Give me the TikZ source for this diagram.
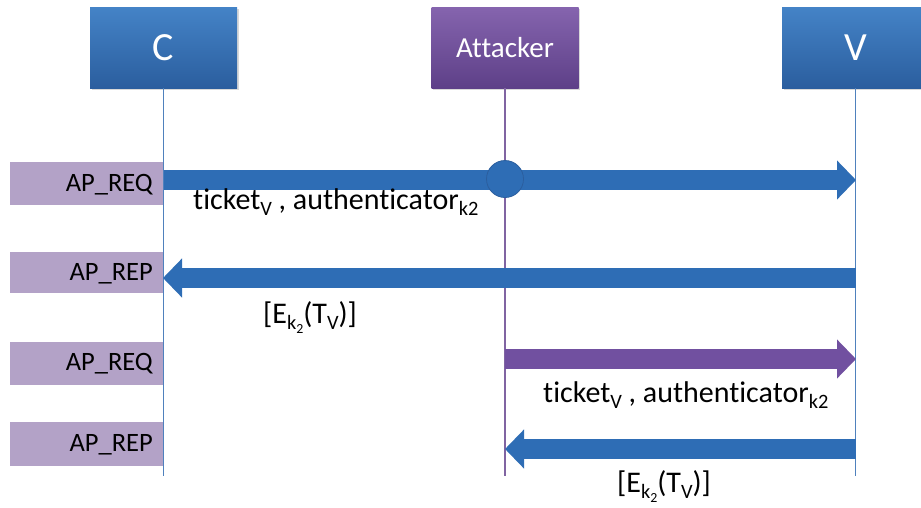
\documentclass[tikz,border=0pt]{standalone}
\usepackage{fontspec}
\setmainfont{Carlito}[Ligatures={NoCommon,NoContextual}]
\usetikzlibrary{arrows.meta,shadows}
\definecolor{blueTop}{HTML}{4483C7}
\definecolor{blueBot}{HTML}{2B5E9E}
\definecolor{purTop}{HTML}{8564AE}
\definecolor{purBot}{HTML}{5E4088}
\definecolor{arrBlue}{HTML}{2E6DB5}
\definecolor{arrPur}{HTML}{7150A0}
\definecolor{lineBlue}{HTML}{4F81BD}
\definecolor{linePur}{HTML}{8064A2}
\definecolor{tagFill}{HTML}{B3A2C7}
\newcommand{\lowsub}[1]{\raisebox{-0.2em}{\scalebox{0.68}{#1}}}
\tikzset{
  actor/.style={rectangle, minimum width=147pt, minimum height=81pt, inner sep=0pt,
    text=white, shading=axis, shading angle=0,
    drop shadow={shadow xshift=1.5pt, shadow yshift=-2pt, opacity=0.3}},
  bluebox/.style={actor, top color=blueTop, bottom color=blueBot},
  purbox/.style={actor, top color=purTop, bottom color=purBot},
  life/.style={line width=1.3pt},
  tag/.style={fill=tagFill, draw=none},
  tagtext/.style={anchor=east, font=\fontsize{26.5}{30}\selectfont, inner sep=0pt},
  msg/.style={line width=20pt, -{Triangle[length=19pt,width=38pt]}},
  lbl/.style={anchor=base west, font=\fontsize{30}{34}\selectfont, inner sep=0pt}
}
\begin{document}
\begin{tikzpicture}[x=1pt,y=-1pt]
\useasboundingbox (0,0) rectangle (921,507);
\clip (0,0) rectangle (921,507);

% left tags
\fill[tag] (10,162) rectangle (163,205);
\fill[tag] (10,252) rectangle (163,293);
\fill[tag] (10,342) rectangle (163,385);
\fill[tag] (10,422) rectangle (163,466);
\node[tagtext] (t1) at (153,185) {AP\_REQ};
\node[tagtext] (t2) at (153,274) {AP\_REP};
\node[tagtext] (t3) at (153,364) {AP\_REQ};
\node[tagtext] (t4) at (153,445) {AP\_REP};

% actors
\node[bluebox, font=\fontsize{40}{48}\selectfont] (C) at (163.5,47.5) {C};
\node[purbox, font=\fontsize{29}{34}\selectfont] (A) at (505,47.5) {Attacker};
\node[bluebox, font=\fontsize{40}{48}\selectfont] (V) at (855.5,47.5) {V};

% lifelines
\coordinate (Cend) at (163.5,476);
\coordinate (Aend) at (505,476);
\coordinate (Vend) at (855.5,476);
\draw[life, lineBlue] (C.south) -- (Cend);
\draw[life, linePur] (A.south) -- (Aend);
\draw[life, lineBlue] (V.south) -- (Vend);

\coordinate (C1) at (163.5,180);
\coordinate (V1) at (856,180);
\coordinate (C2) at (163,278);
\coordinate (V2) at (855.5,278);
\coordinate (A3) at (505,359);
\coordinate (V3) at (856,359);
\coordinate (A4) at (505,449);
\coordinate (V4) at (855.5,449);

% messages
\draw[msg, arrBlue] (C1) -- (V1);
\node[circle, fill=arrBlue, draw=blueBot, line width=0.8pt, minimum size=37pt, inner sep=0pt] (tap) at (505,179) {};
\draw[msg, arrBlue] (V2) -- (C2);
\draw[msg, arrPur] (A3) -- (V3);
\draw[msg, arrBlue] (V4) -- (A4);

% labels
\node[lbl] (l1) at (193,209) {ticket\lowsub{V} , authenticator\lowsub{k2}};
\node[lbl] (l2) at (263,323) {[E\lowsub{k\lowsub{2}}(T\lowsub{V})]};
\node[lbl] (l3) at (543,402) {ticket\lowsub{V} , authenticator\lowsub{k2}};
\node[lbl] (l4) at (617,492) {[E\lowsub{k\lowsub{2}}(T\lowsub{V})]};
\end{tikzpicture}
\end{document}
